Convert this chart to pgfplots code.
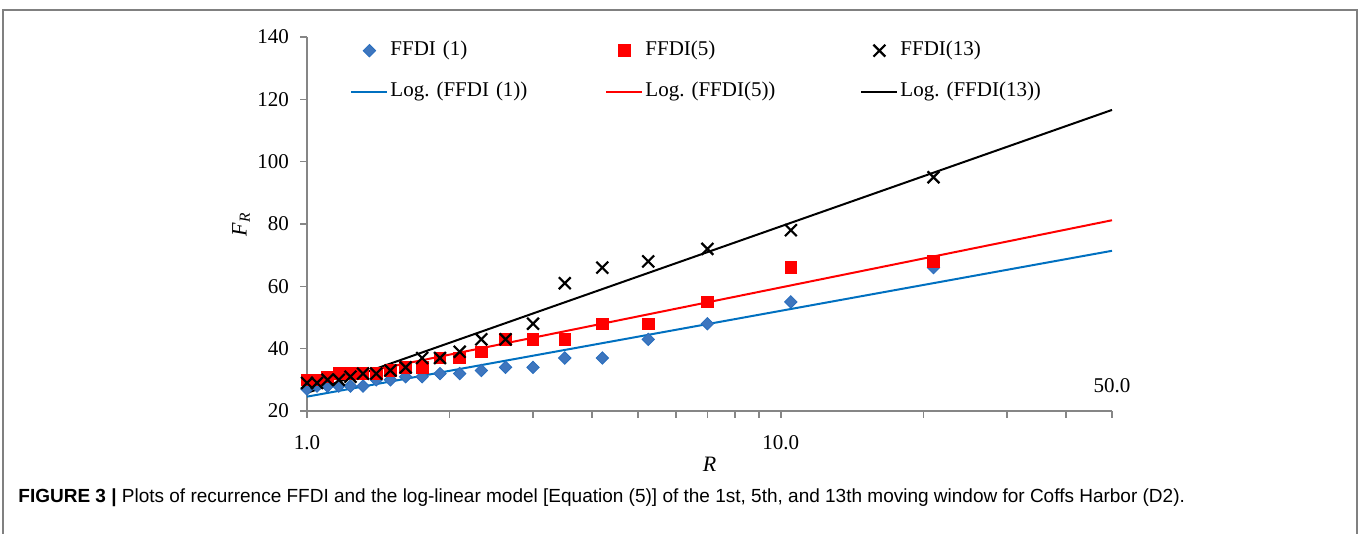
\documentclass[border=0pt]{standalone}
\usepackage{fontspec}
\setmainfont{Liberation Serif}
\newfontfamily\capfont{Liberation Sans}
\usepackage{pgfplots}
\pgfplotsset{compat=1.18}
\definecolor{ffblue}{RGB}{62,118,190}
\definecolor{ffbluedge}{RGB}{40,110,190}
\definecolor{lineblue}{RGB}{0,112,192}
\definecolor{axgray}{RGB}{134,134,134}
\definecolor{framegray}{RGB}{128,128,128}
\begin{document}
\frenchspacing
\begin{tikzpicture}
\useasboundingbox (0,0) rectangle (680pt,267pt);
\draw[framegray, line width=1pt] (1.5pt,-2pt) -- (1.5pt,262pt) -- (678.5pt,262pt) -- (678.5pt,-2pt);
\begin{axis}[
  at={(153.5pt,61.5pt)}, anchor=south west,
  scale only axis, width=402.5pt, height=187pt,
  xmode=log, xmin=1, xmax=50, ymin=20, ymax=140,
  axis x line*=bottom, axis y line*=left,
  axis line style={axgray, line width=1pt},
  xtick={1,10}, xticklabels={1.0,10.0},
  minor xtick={2,3,4,5,6,7,8,9,20,30,40,50},
  ytick={20,40,60,80,100,120,140},
  tick align=outside,
  major tick length=3.5pt, minor tick length=3.5pt,
  every tick/.style={axgray, line width=0.8pt},
  tick label style={font=\fontsize{10.5}{12}\selectfont},
  /pgf/number format/assume math mode=true,
  xticklabel style={yshift=-5pt},
  yticklabel style={xshift=-2pt},
  xlabel={\textit{R}}, ylabel={\textit{F}\textsubscript{\textit{R}}},
  label style={font=\fontsize{11}{12}\selectfont},
  xlabel style={at={(axis description cs:0.5,-0.163)}, anchor=base},
  ylabel style={at={(axis description cs:-0.082,0.5)}, anchor=center},
  clip=false,
  legend columns=3,
  legend image code/.code={\draw[mark repeat=2,mark phase=2,#1] plot coordinates {(0pt,0pt) (9pt,0pt) (18pt,0pt)};},
  legend style={at={(axis description cs:0.046,1.01)}, anchor=north west, draw=none, fill=none,
    font=\fontsize{10.5}{12}\selectfont,
    /tikz/every even column/.append style={column sep=0pt},
    nodes={inner xsep=1pt, inner ysep=1pt, text width=106.5pt, align=left, text height=8pt, text depth=3pt},
    row sep=7.5pt},
]
\addplot[only marks, mark=square*, mark size=2.2pt, mark options={rotate=45, fill=ffblue, draw=ffbluedge}] coordinates {
(1.0,27) (1.05,28) (1.105,28) (1.167,28) (1.235,28) (1.313,28) (1.4,30) (1.5,30) (1.615,31) (1.75,31)
(1.909,32) (2.1,32) (2.333,33) (2.625,34) (3.0,34) (3.5,37) (4.2,37) (5.25,43) (7.0,48) (10.5,55) (21.0,66)};
\addlegendentry{FFDI (1)}
\addplot[only marks, mark=square*, mark size=2.9pt, mark options={fill=red, draw=red}] coordinates {
(1.0,30) (1.05,30) (1.105,31) (1.167,32) (1.235,32) (1.313,32) (1.4,32) (1.5,33) (1.615,34) (1.75,34)
(1.909,37) (2.1,37) (2.333,39) (2.625,43) (3.0,43) (3.5,43) (4.2,48) (5.25,48) (7.0,55) (10.5,66) (21.0,68)};
\addlegendentry{FFDI(5)}
\addplot[only marks, mark=x, mark size=4.2pt, mark options={draw=black, line width=1.1pt}] coordinates {
(1.0,29) (1.05,29) (1.105,30) (1.167,30) (1.235,31) (1.313,32) (1.4,32) (1.5,33) (1.615,34) (1.75,37)
(1.909,37) (2.1,39) (2.333,43) (2.625,43) (3.0,48) (3.5,61) (4.2,66) (5.25,68) (7.0,72) (10.5,78) (21.0,95)};
\addlegendentry{FFDI(13)}
\addplot[lineblue, line width=1pt] coordinates {(1,24.6) (50,71.4)};
\addlegendentry{Log. (FFDI (1))}
\addplot[red, line width=1pt] coordinates {(1,28.8) (50,81.2)};
\addlegendentry{Log. (FFDI(5))}
\addplot[black, line width=1pt] coordinates {(1,25.8) (50,116.6)};
\addlegendentry{Log. (FFDI(13))}
\node[anchor=base, font=\fontsize{10.5}{12}\selectfont] at (axis cs:50,20) [yshift=9pt] {50.0};
\end{axis}
\node[anchor=base west, inner sep=0pt, font=\capfont\fontsize{9.5}{11}\selectfont] at (9pt,15.5pt) {\textbf{FIGURE 3 |} Plots of recurrence FFDI and the log-linear model [Equation (5)] of the 1st, 5th, and 13th moving window for Coffs Harbor (D2).};
\end{tikzpicture}
\end{document}
